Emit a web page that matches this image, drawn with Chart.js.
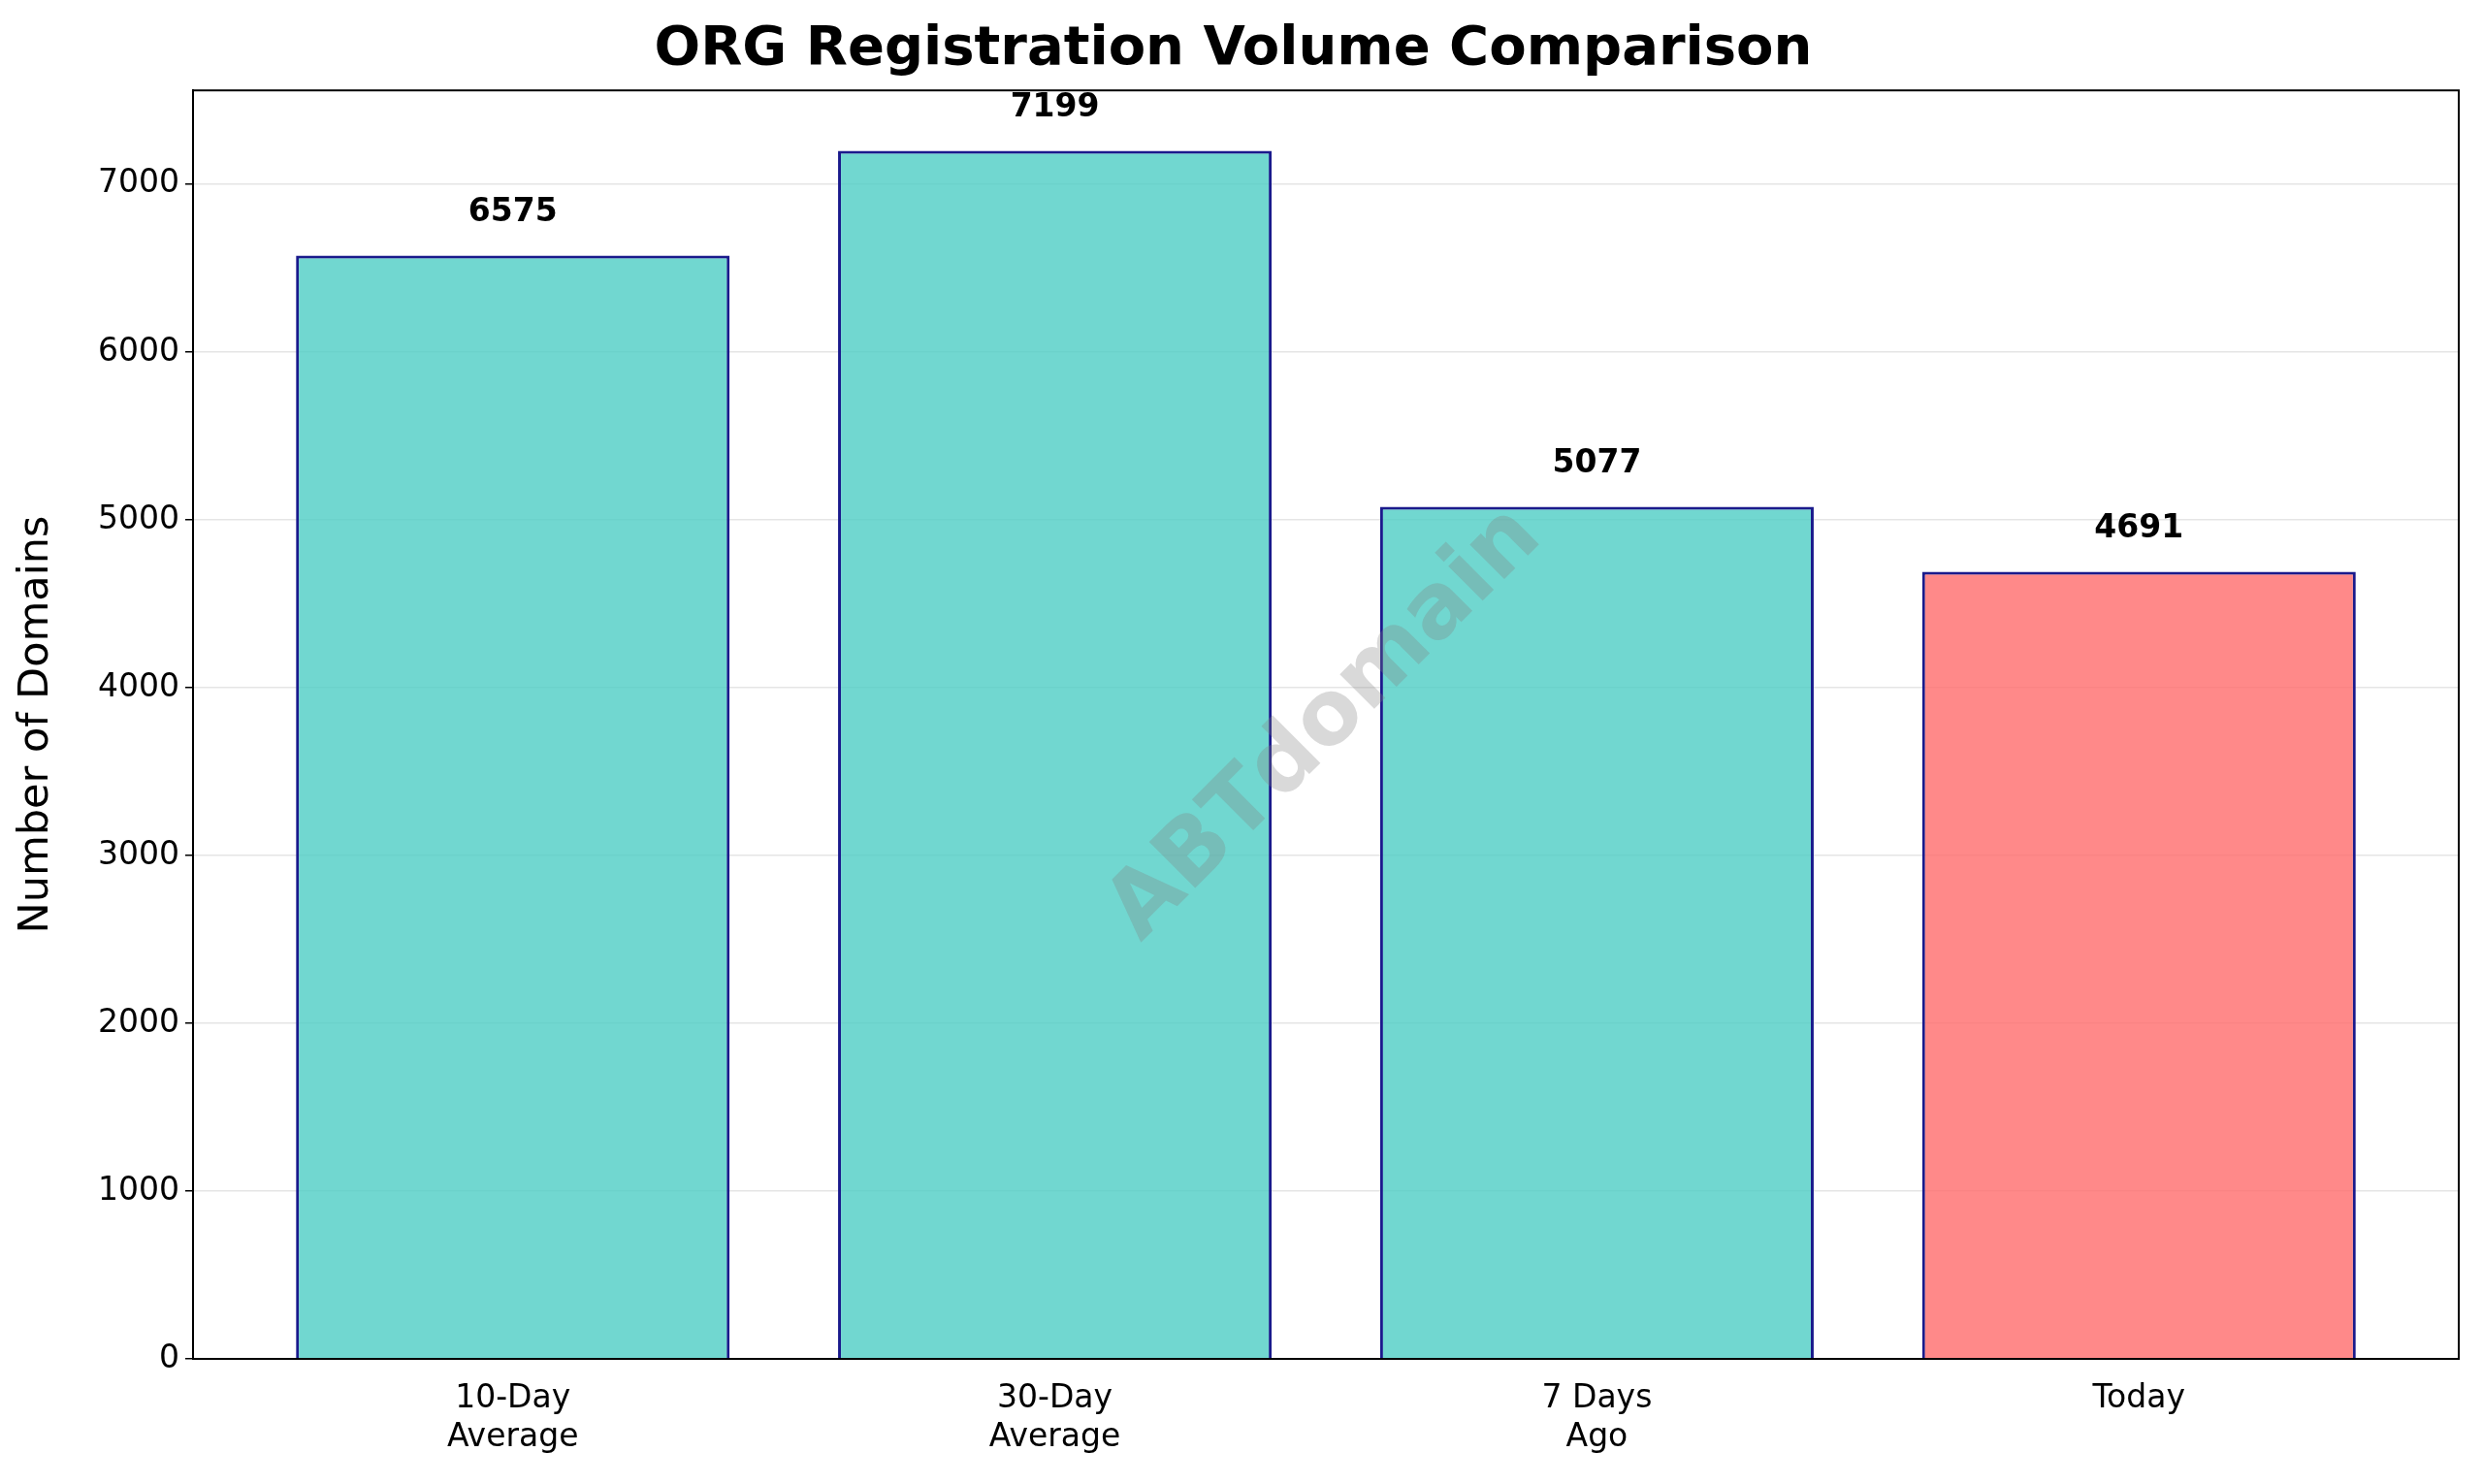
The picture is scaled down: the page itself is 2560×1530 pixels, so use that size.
<!DOCTYPE html>
<html><head><meta charset="utf-8">
<script src="https://cdn.jsdelivr.net/npm/chart.js@4/dist/chart.umd.min.js"></script>
<style>html,body{margin:0;padding:0;background:#fff}</style>
</head><body>
<canvas id="c" width="2560" height="1530"></canvas>
<script>
const categories = [["10-Day","Average"],["30-Day","Average"],["7 Days","Ago"],["Today"]];
const values = [6575, 7199, 5077, 4691];
const barColors = ["rgba(78,205,196,0.8)","rgba(78,205,196,0.8)","rgba(78,205,196,0.8)","rgba(255,107,107,0.8)"];
const yTicks = [0,1000,2000,3000,4000,5000,6000,7000];
const FONT = "'DejaVu Sans', sans-serif";

const labelPlugin = {
  id:'labels',
  afterDatasetsDraw(chart){
    const ctx = chart.ctx, meta = chart.getDatasetMeta(0);
    ctx.save();
    ctx.font = "bold 33px " + FONT; ctx.fillStyle="#000"; ctx.textAlign="center"; ctx.textBaseline="middle";
    meta.data.forEach((b,i)=>{ ctx.fillText(String(values[i]), b.x, b.y - 44); });
    const a = chart.chartArea;
    ctx.translate((a.left+a.right)/2, (a.top+a.bottom)/2);
    ctx.rotate(-Math.PI/4);
    ctx.font = "bold 92px " + FONT; ctx.fillStyle="rgba(128,128,128,0.3)";
    ctx.fillText("ABTdomain", 0, 0);
    ctx.restore();
  },
  afterDraw(chart){
    const a = chart.chartArea, ctx = chart.ctx;
    ctx.save(); ctx.strokeStyle="#000"; ctx.lineWidth=2;
    ctx.strokeRect(a.left, a.top, a.right-a.left, a.bottom-a.top); ctx.restore();
  }
};

new Chart(document.getElementById('c'), {
  type:'bar',
  data:{ datasets:[{ data: values.map((v,i)=>({x:i,y:v})), backgroundColor: barColors,
    borderColor:"#1a1a8c", borderWidth:3, barPercentage:1, categoryPercentage:0.8 }]},
  options:{
    responsive:false, devicePixelRatio:1, animation:false,
    layout:{padding:{left:8,right:25,top:0,bottom:0}},
    plugins:{ legend:{display:false}, tooltip:{enabled:false},
      title:{display:true, text:"ORG Registration Volume Comparison", color:"#000",
        font:{family:FONT,size:56,weight:'bold'}, padding:{top:18,bottom:8}}},
    scales:{
      x:{ type:'linear', offset:false, min:-0.59, max:3.59, grid:{display:false},
        border:{color:"#000",width:2},
        afterBuildTicks(s){ s.ticks = categories.map((c,i)=>({value:i})); },
        afterFit(s){ s.height = 129; },
        ticks:{ autoSkip:false, color:"#000", font:{family:FONT,size:33}, padding:14,
          callback:(v)=>categories[v] }},
      y:{ min:0, max:7559, border:{color:"#000",width:2},
        afterBuildTicks(s){ s.ticks = yTicks.map(v=>({value:v})); },
        afterFit(s){ s.width = 191; },
        grid:{ color:"rgba(0,0,0,0.1)", lineWidth:1.5, drawTicks:true, tickColor:"#000", tickLength:8 },
        ticks:{ color:"#000", font:{family:FONT,size:33}, padding:6, callback:(v)=>String(v) },
        title:{ display:true, text:"Number of Domains", color:"#000", font:{family:FONT,size:43}, padding:{bottom:10} } }
    }
  },
  plugins:[labelPlugin]
});
</script>
</body></html>
